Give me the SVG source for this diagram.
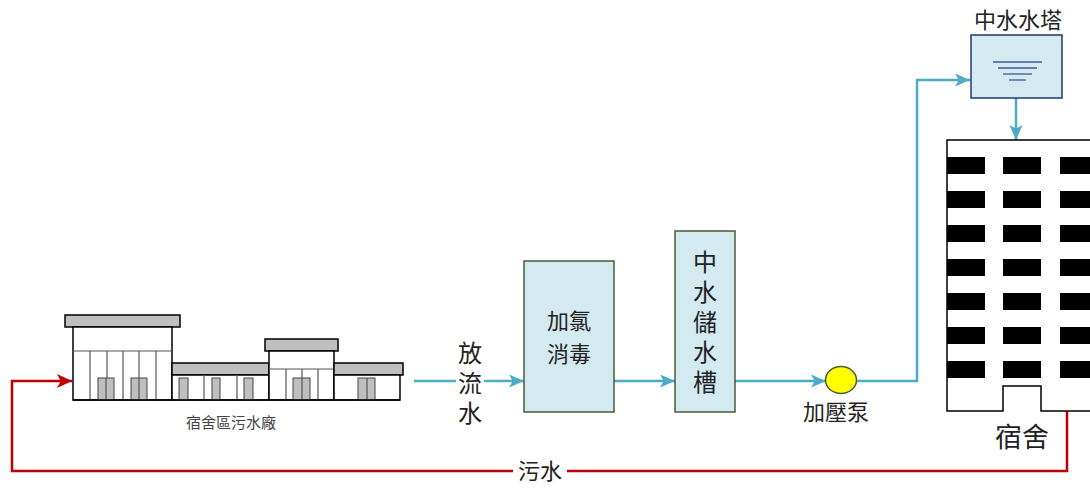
<svg xmlns="http://www.w3.org/2000/svg" width="1090" height="488" viewBox="0 0 1090 488">
<style>
.t{font-family:"Noto Sans CJK TC","Noto Sans CJK SC",sans-serif;fill:#222;text-anchor:middle}
.v{writing-mode:vertical-rl;letter-spacing:6px}
.blue{stroke:#4bacc6;stroke-width:2.5;fill:none}
.red{stroke:#c00000;stroke-width:2.5;fill:none}
.box{fill:#d2eaf0;stroke:#4a5a3a;stroke-width:1.5}
.roof{fill:#bfbfbf;stroke:#000;stroke-width:1.5}
.wall{fill:#fff;stroke:#000;stroke-width:1.5}
.ln{stroke:#555;stroke-width:1.2}
.door{fill:#bfbfbf;stroke:#444;stroke-width:1}
.win{fill:#000}
</style>
<defs>
<marker id="ab" viewBox="0 0 10 10" refX="10" refY="5" markerWidth="15" markerHeight="13" orient="auto" markerUnits="userSpaceOnUse" preserveAspectRatio="none">
<path d="M0,0 L10,5 L0,10 L2.5,5 Z" fill="#4bacc6"/>
</marker>
<marker id="ar" viewBox="0 0 10 10" refX="10" refY="5" markerWidth="15" markerHeight="14" orient="auto" markerUnits="userSpaceOnUse" preserveAspectRatio="none">
<path d="M0,0 L10,5 L0,10 L2.5,5 Z" fill="#c00000"/>
</marker>
</defs>
<rect width="1090" height="488" fill="#fff"/>

<g id="connectors">
<path class="red" d="M1067,411 L1067,471 L12,471 L12,381 L72,381" marker-end="url(#ar)"/>
<path class="blue" d="M414,381 L524,381" marker-end="url(#ab)"/>
<path class="blue" d="M614,381 L675,381" marker-end="url(#ab)"/>
<path class="blue" d="M735,381 L826,381" marker-end="url(#ab)"/>
<path class="blue" d="M856,381 L917,381 L917,80 L970,80" marker-end="url(#ab)"/>
<path class="blue" d="M1016,98 L1016,140" marker-end="url(#ab)"/>
<rect x="456" y="337" width="28" height="90" fill="#fff"/>
<text class="t v" x="470" y="386" font-size="24">放流水</text>
<rect x="513" y="459" width="54" height="24" fill="#fff"/>
<text class="t" x="540" y="479" font-size="22">污水</text>
</g>

<g id="factory">
<rect class="roof" x="65" y="315" width="115" height="12"/>
<rect class="wall" x="73" y="327" width="99" height="73"/>
<line class="ln" x1="73" y1="351" x2="172" y2="351"/>
<line class="ln" x1="90" y1="351" x2="90" y2="400"/>
<line class="ln" x1="107" y1="351" x2="107" y2="400"/>
<line class="ln" x1="123" y1="351" x2="123" y2="400"/>
<line class="ln" x1="139" y1="351" x2="139" y2="400"/>
<line class="ln" x1="156" y1="351" x2="156" y2="400"/>
<rect class="door" x="98" y="378" width="16" height="22"/>
<line class="ln" x1="106" y1="378" x2="106" y2="400"/>
<rect class="door" x="131" y="378" width="16" height="22"/>
<line class="ln" x1="139" y1="378" x2="139" y2="400"/>

<rect class="roof" x="172" y="363" width="97" height="12"/>
<rect class="wall" x="172" y="375" width="97" height="25"/>
<line class="ln" x1="204" y1="375" x2="204" y2="400"/>
<line class="ln" x1="237" y1="375" x2="237" y2="400"/>
<rect class="door" x="179" y="378" width="9" height="22"/>
<rect class="door" x="212" y="378" width="8" height="22"/>
<rect class="door" x="244" y="378" width="9" height="22"/>

<rect class="roof" x="265" y="339" width="73" height="12"/>
<rect class="wall" x="269" y="351" width="65" height="49"/>
<line class="ln" x1="269" y1="369" x2="334" y2="369"/>
<line class="ln" x1="286" y1="369" x2="286" y2="400"/>
<line class="ln" x1="302" y1="369" x2="302" y2="400"/>
<line class="ln" x1="318" y1="369" x2="318" y2="400"/>
<rect class="door" x="293" y="378" width="17" height="22"/>
<line class="ln" x1="302" y1="378" x2="302" y2="400"/>

<rect class="roof" x="334" y="363" width="69" height="12"/>
<rect class="wall" x="334" y="375" width="66" height="25"/>
<rect class="door" x="358" y="378" width="17" height="22"/>
<line class="ln" x1="367" y1="378" x2="367" y2="400"/>
<line x1="73" y1="400" x2="400" y2="400" stroke="#000" stroke-width="1.5"/>
<text class="t" x="231" y="428" font-size="15" style="fill:#444">宿舍區污水廠</text>
</g>

<g id="chlorine">
<rect class="box" x="524" y="261" width="90" height="151"/>
<text class="t" x="569" y="329" font-size="22">加氯</text>
<text class="t" x="569" y="362" font-size="22">消毒</text>
</g>

<g id="storage">
<rect class="box" x="675" y="231" width="60" height="181"/>
<text class="t v" x="705" y="325" font-size="24">中水儲水槽</text>
</g>

<g id="pump">
<ellipse cx="841" cy="380" rx="15.5" ry="13.5" fill="#ffff00" stroke="#4a5a3a" stroke-width="1.5"/>
<text class="t" x="836" y="420" font-size="22">加壓泵</text>
</g>

<g id="tower">
<rect x="971" y="35" width="91" height="63" fill="#d2eaf0" stroke="#1f3a6e" stroke-width="1.5"/>
<g stroke="#3a5a9a" stroke-width="1.3">
<line x1="993" y1="62" x2="1042" y2="62"/>
<line x1="998" y1="68" x2="1037" y2="68"/>
<line x1="1003" y1="74" x2="1032" y2="74"/>
<line x1="1009" y1="80" x2="1026" y2="80"/>
</g>
<text class="t" x="1018" y="28" font-size="22">中水水塔</text>
</g>

<g id="dorm">
<path d="M1092,140 L947,140 L947,411 L1003,411 L1003,386 L1041,386 L1041,411 L1092,411" fill="#fff" stroke="#000" stroke-width="1.5"/>
<g class="win">
<rect x="947" y="157" width="38" height="17"/><rect x="1003" y="157" width="38" height="17"/><rect x="1060" y="157" width="40" height="17"/>
<rect x="947" y="191" width="38" height="17"/><rect x="1003" y="191" width="38" height="17"/><rect x="1060" y="191" width="40" height="17"/>
<rect x="947" y="225" width="38" height="17"/><rect x="1003" y="225" width="38" height="17"/><rect x="1060" y="225" width="40" height="17"/>
<rect x="947" y="259" width="38" height="17"/><rect x="1003" y="259" width="38" height="17"/><rect x="1060" y="259" width="40" height="17"/>
<rect x="947" y="293" width="38" height="17"/><rect x="1003" y="293" width="38" height="17"/><rect x="1060" y="293" width="40" height="17"/>
<rect x="947" y="327" width="38" height="17"/><rect x="1003" y="327" width="38" height="17"/><rect x="1060" y="327" width="40" height="17"/>
<rect x="947" y="361" width="38" height="17"/><rect x="1003" y="361" width="38" height="17"/><rect x="1060" y="361" width="40" height="17"/>
</g>
<text class="t" x="1022" y="447" font-size="27">宿舍</text>
</g>
</svg>
